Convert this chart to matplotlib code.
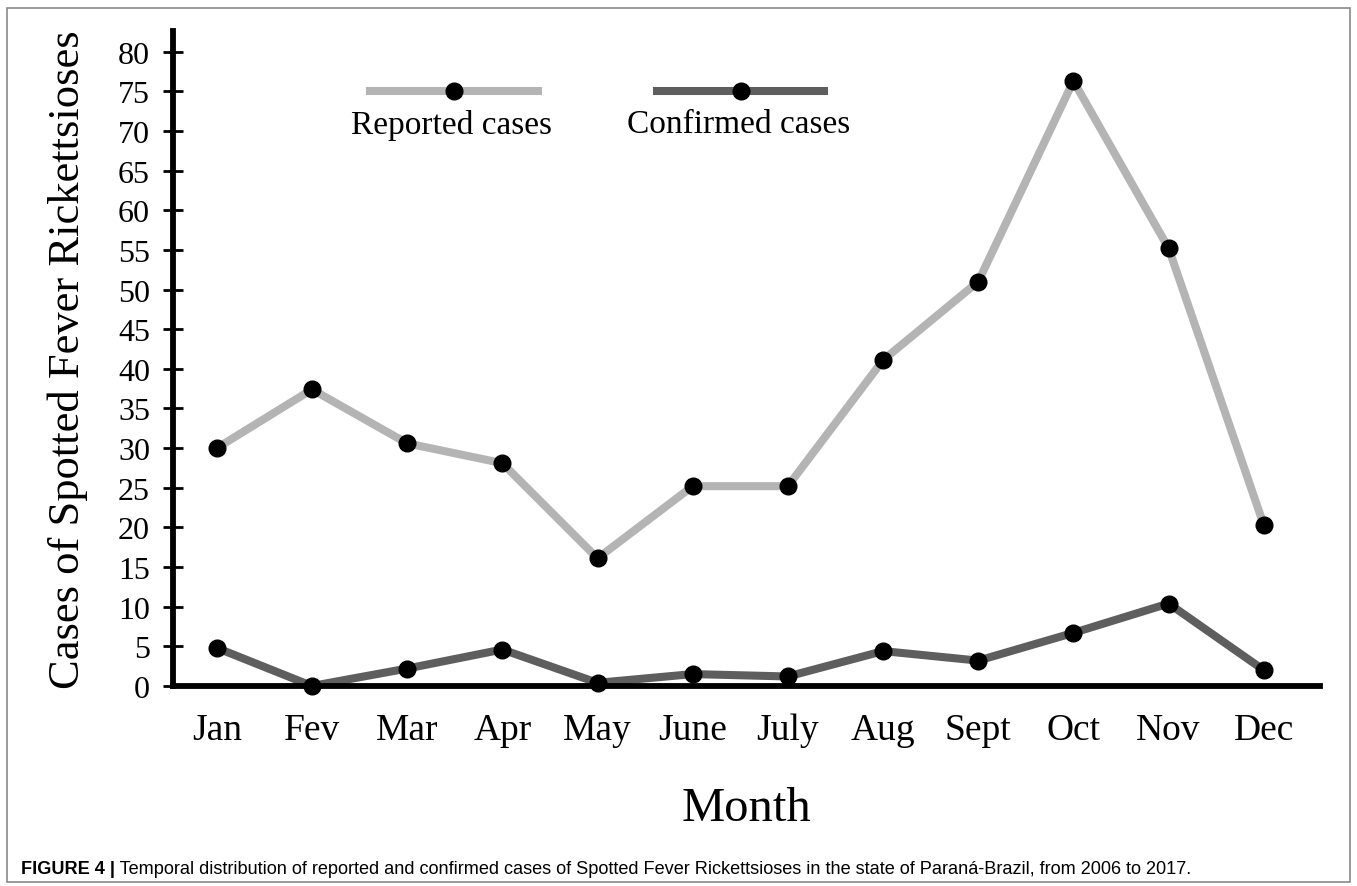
import matplotlib
matplotlib.use("Agg")
import matplotlib.pyplot as plt
from matplotlib.lines import Line2D
from matplotlib.patches import Rectangle

months = ["Jan", "Fev", "Mar", "Apr", "May", "June", "July",
          "Aug", "Sept", "Oct", "Nov", "Dec"]
reported = [30, 37.4, 30.6, 28.1, 16.1, 25.2, 25.2, 41.1, 51.0, 76.3, 55.2, 20.3]
confirmed = [4.8, 0.0, 2.2, 4.6, 0.4, 1.5, 1.2, 4.4, 3.2, 6.7, 10.4, 2.0]
yticks = list(range(0, 85, 5))

C_REP, C_CONF = "#b4b4b4", "#5e5e5e"
SERIF = ["Liberation Serif", "DejaVu Serif"]
SANS = ["Liberation Sans Narrow", "Liberation Sans", "DejaVu Sans"]
CAPTION = ("Temporal distribution of reported and confirmed cases of Spotted Fever "
           "Rickettsioses in the state of Paraná-Brazil, from 2006 to 2017.")

fig = plt.figure(figsize=(13.57, 8.87), dpi=100)
ax = fig.add_axes([0.1275, 0.2255, 0.9727 - 0.1275, 0.9639 - 0.2255])

x = list(range(len(months)))
for vals, col in ((reported, C_REP), (confirmed, C_CONF)):
    ax.plot(x, vals, color=col, lw=5.8, solid_capstyle="butt", zorder=3,
            clip_on=False)
    ax.plot(x, vals, ls="none", marker="o", ms=12, color="black", zorder=5,
            clip_on=False)

ax.set_xlim(-0.46, 11.59)
ax.set_ylim(0, 82.6)
ax.set_yticks(yticks)
ax.set_yticklabels([str(v) for v in yticks], fontsize=23, family=SERIF)
ax.set_xticks(x)
ax.set_xticklabels(months, fontsize=27, family=SERIF)
ax.tick_params(axis="y", direction="inout", length=15, width=2, pad=9)
ax.tick_params(axis="x", length=0, pad=19)

for side in ("top", "right"):
    ax.spines[side].set_visible(False)
for side in ("left", "bottom"):
    ax.spines[side].set_linewidth(4.2)
    ax.spines[side].set_zorder(4)

ax.set_ylabel("Cases of Spotted Fever Rickettsioses", fontsize=32, family=SERIF)
ax.yaxis.set_label_coords(-0.074, 0.5)
ax.set_xlabel("Month", fontsize=35, family=SERIF, va="top")
ax.xaxis.set_label_coords(0.5, -0.153)

# legend: line sample with marker, label beneath
for cx, col, lab in ((0.245, C_REP, "Reported cases"),
                     (0.495, C_CONF, "Confirmed cases")):
    ax.add_line(Line2D([cx - 0.073, cx + 0.073], [0.908, 0.908], color=col,
                       lw=5.8, transform=ax.transAxes))
    ax.add_line(Line2D([cx], [0.908], marker="o", ms=12, color="black",
                       transform=ax.transAxes, zorder=5))
    ax.text(cx - 0.002, 0.858, lab, transform=ax.transAxes, ha="center",
            va="center", fontsize=24, family=SERIF)

# caption: bold figure number, then the text right after it
cap = fig.text(0.0155, 0.0147, "FIGURE 4 |", fontsize=13.1, weight="bold",
               family=SANS, va="baseline")
fig.canvas.draw()
bb = cap.get_window_extent()
fig.text(bb.x1 / fig.bbox.width, 0.0147, " " + CAPTION,
         fontsize=13.1, family=SANS, va="baseline")

fig.patches.append(Rectangle((0.005, 0.004), 0.99, 0.986, transform=fig.transFigure,
                             fill=False, edgecolor="#8a8a8a", lw=1.2))

fig.savefig("out.png", dpi=100)
